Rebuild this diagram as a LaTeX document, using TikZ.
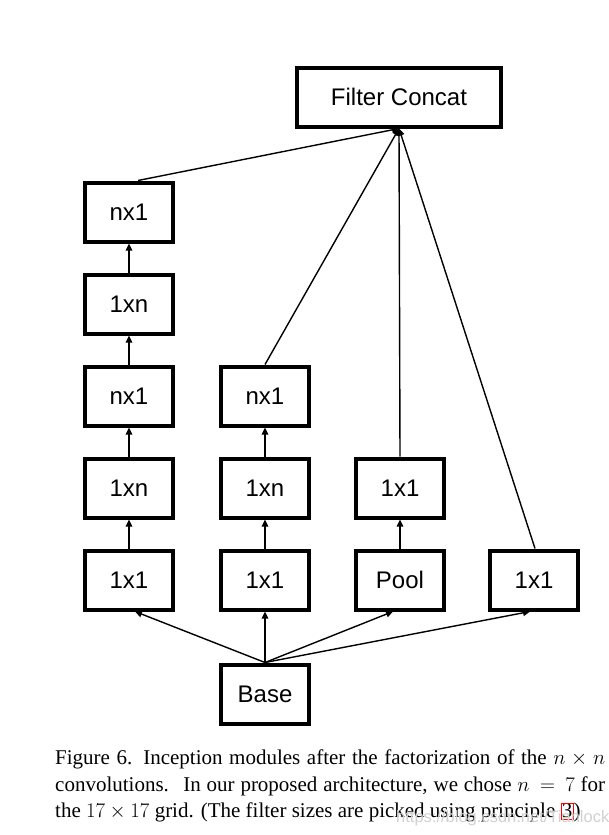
\documentclass[tikz,border=0pt]{standalone}
\usepackage{fontspec}
\setmainfont{Liberation Serif}
\newfontfamily\boxfont{Liberation Sans}
\usetikzlibrary{arrows.meta,calc}
\begin{document}
\begin{tikzpicture}[x=1pt,y=-1pt,
  blk/.style={draw=black,line width=4pt,fill=white,minimum width=88pt,minimum height=59pt,inner sep=0pt,font=\boxfont\fontsize{24}{28}\selectfont},
  conn/.style={line width=1.4pt,-{Triangle[length=7pt,width=6.5pt]}},
  plainln/.style={line width=1.4pt}]
\useasboundingbox (0,0) rectangle (609,835);
\fill[white] (0,0) rectangle (609,835);
% nodes
\node[blk,minimum width=204pt] (concat) at (399,97) {Filter Concat};
\node[blk] (a5) at (129,212) {nx1};
\node[blk] (a4) at (129,304) {1xn};
\node[blk] (a3) at (129,396) {nx1};
\node[blk] (a2) at (129,488) {1xn};
\node[blk] (a1) at (129,580) {1x1};
\node[blk] (b3) at (265,396) {nx1};
\node[blk] (b2) at (265,488) {1xn};
\node[blk] (b1) at (265,580) {1x1};
\node[blk] (c2) at (400,488) {1x1};
\node[blk] (c1) at (400,580) {Pool};
\node[blk] (d1) at (534,580) {1x1};
\node[blk] (base) at (265,694) {Base};
% column arrows
\draw[conn] (a1) -- (a2);
\draw[conn] (a2) -- (a3);
\draw[conn] (a3) -- (a4);
\draw[conn] (a4) -- (a5);
\draw[conn] (b1) -- (b2);
\draw[conn] (b2) -- (b3);
\draw[conn] (c1) -- (c2);
% from base
\draw[conn] (base.north) -- ($(a1.south)+(6,0)$);
\draw[conn] (base.north) -- (b1.south);
\draw[conn] (base.north) -- ($(c1.south)+(-7,0)$);
\draw[conn] (base.north) -- ($(d1.south)+(-4,0)$);
% to concat
\draw[conn] ($(a5.north)+(9,0)$) -- (concat.south);
\draw[conn] (b3.north) -- (concat.south);
\draw[conn] (c2.north) -- (concat.south);
\draw[conn] ($(d1.north)+(1,0)$) -- (concat.south);
% caption
\node[anchor=north west,inner sep=0pt,text width=550pt,align=justify,font=\fontsize{21}{26.5}\selectfont] (cap) at (55,750)
{Figure 6. Inception modules after the factorization of the $n\times n$\linebreak convolutions. \ In our proposed architecture, we chose $n\,=\,7$ for\linebreak the $17\times17$ grid. (The filter sizes are picked using principle {\setlength{\fboxsep}{0.3pt}\setlength{\fboxrule}{1pt}\fcolorbox{red}{white}{3}})};
\node[anchor=west,inner sep=0pt,text=black!18,font=\boxfont\fontsize{16.5}{20}\selectfont] (wm) at (396,818) {https://blog.csdn.net/Tianlock};
\end{tikzpicture}
\end{document}
